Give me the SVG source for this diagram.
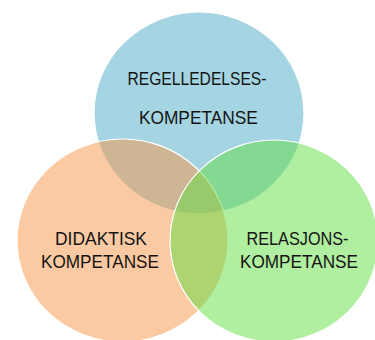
<svg xmlns="http://www.w3.org/2000/svg" width="375" height="340" viewBox="0 0 375 340">
  <style>
    .c { stroke: #ffffff; stroke-width: 1.2; fill-opacity: 0.5; }
    .t { font-family: "Liberation Sans", Arial, sans-serif; font-size: 18.5px; fill: #141414; text-anchor: middle; }
  </style>
  <rect x="0" y="0" width="375" height="340" fill="#ffffff"/>
  <g id="node-regelledelse">
    <ellipse class="c" cx="199" cy="113" rx="105" ry="101" fill="#4bacc6"/>
  </g>
  <g id="node-didaktisk">
    <ellipse class="c" cx="122.5" cy="240.5" rx="105.5" ry="101.5" fill="#f79646"/>
  </g>
  <g id="node-relasjon">
    <ellipse class="c" cx="274" cy="241" rx="104" ry="101" fill="#61dd41"/>
  </g>
  <g id="labels">
    <text class="t" x="197" y="85" textLength="139" lengthAdjust="spacingAndGlyphs">REGELLEDELSES-</text>
    <text class="t" x="198.4" y="124" textLength="119" lengthAdjust="spacingAndGlyphs">KOMPETANSE</text>
    <text class="t" x="101" y="245" textLength="92" lengthAdjust="spacingAndGlyphs">DIDAKTISK</text>
    <text class="t" x="100" y="267.5" textLength="118" lengthAdjust="spacingAndGlyphs">KOMPETANSE</text>
    <text class="t" x="297.5" y="245" textLength="102" lengthAdjust="spacingAndGlyphs">RELASJONS-</text>
    <text class="t" x="299" y="267.5" textLength="118" lengthAdjust="spacingAndGlyphs">KOMPETANSE</text>
  </g>
  <g id="connectors"></g>
</svg>
